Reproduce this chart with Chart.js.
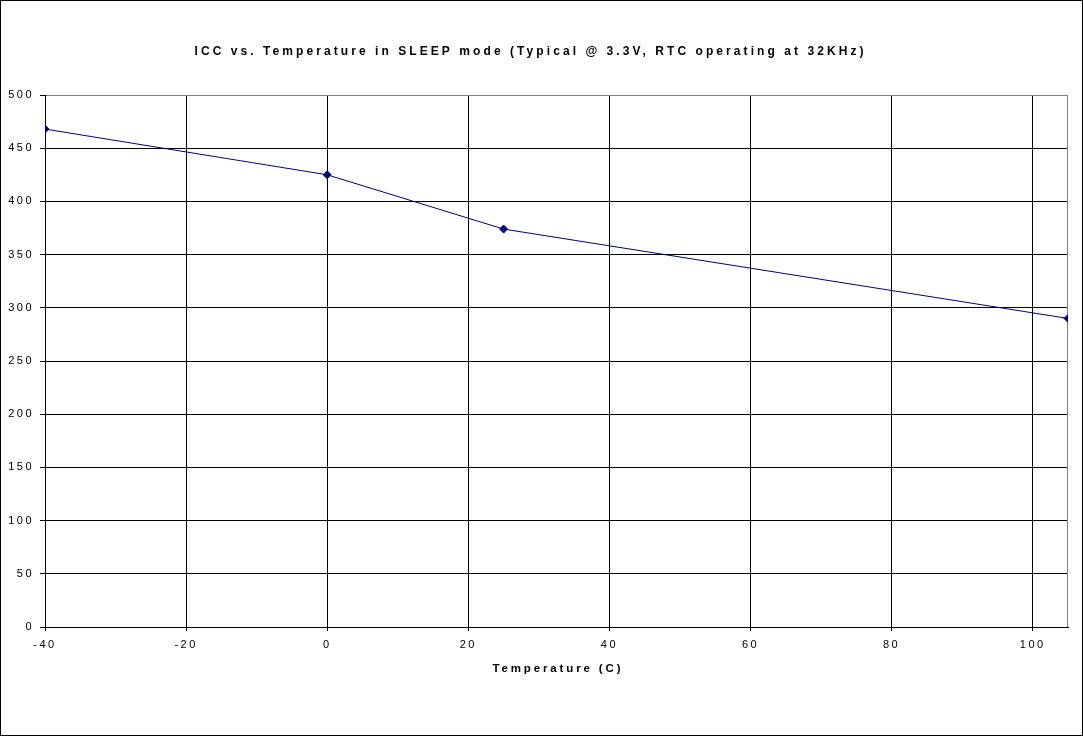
<!DOCTYPE html>
<html><head><meta charset="utf-8">
<script src="https://cdn.jsdelivr.net/npm/chart.js@4.4.0/dist/chart.umd.min.js"></script>
<style>html,body{margin:0;padding:0;background:#fff}#wrap{width:1083px;height:736px;position:relative}canvas{display:block}</style>
</head><body><div id="wrap"><canvas id="c" width="1083" height="736"></canvas></div>
<script>
const chartTitle = 'ICC vs. Temperature in SLEEP mode (Typical @ 3.3V, RTC operating at 32KHz)';
const xAxisTitle = 'Temperature (C)';
const temperatures = [-40, 0, 25, 105];
const iccValues = [468, 425, 374, 290];
const xTicks = [-40, -20, 0, 20, 40, 60, 80, 100];
const yTicks = [0, 50, 100, 150, 200, 250, 300, 350, 400, 450, 500];

const FONT = '"Liberation Sans", Arial, sans-serif';
const TICK_SPACING = '2.5px';

function spacedText(ctx, text, cx, y, font, targetWidth) {
  ctx.save();
  ctx.font = font;
  ctx.letterSpacing = '0px';
  const w = ctx.measureText(text).width;
  const ls = (targetWidth - w) / (text.length - 1);
  ctx.letterSpacing = ls + 'px';
  ctx.textAlign = 'left';
  ctx.textBaseline = 'alphabetic';
  ctx.fillStyle = '#000';
  ctx.fillText(text, cx - targetWidth / 2, y);
  ctx.restore();
}

const decor = {
  id: 'decor',
  beforeDraw(chart) {
    const ctx = chart.ctx;
    ctx.save();
    ctx.fillStyle = '#fff';
    ctx.fillRect(0, 0, chart.width, chart.height);
    ctx.restore();
    ctx.letterSpacing = TICK_SPACING;
  },
  beforeDatasetsDraw(chart) {
    const ctx = chart.ctx, a = chart.chartArea;
    ctx.save();
    ctx.strokeStyle = '#808080';
    ctx.lineWidth = 1;
    ctx.beginPath();
    const r = Math.round(a.right) - 0.5;
    ctx.moveTo(r, a.top);
    ctx.lineTo(r, a.bottom);
    ctx.stroke();
    ctx.restore();
  },
  afterDraw(chart) {
    const ctx = chart.ctx, a = chart.chartArea;
    spacedText(ctx, chartTitle, 529, 55, 'bold 12px ' + FONT, 669);
    spacedText(ctx, xAxisTitle, (a.left + a.right) / 2, 672, 'bold 11.5px ' + FONT, 128);
    ctx.save();
    ctx.strokeStyle = '#000';
    ctx.lineWidth = 1;
    ctx.strokeRect(0.5, 0.5, chart.width - 1, chart.height - 1);
    ctx.restore();
  }
};

new Chart(document.getElementById('c'), {
  type: 'line',
  data: {
    datasets: [{
      data: temperatures.map((t, i) => ({x: t, y: iccValues[i]})),
      borderColor: '#000080',
      backgroundColor: '#000080',
      borderWidth: 1,
      pointStyle: 'rectRot',
      pointRadius: 4,
      pointHoverRadius: 4,
      tension: 0,
      fill: false
    }]
  },
  options: {
    responsive: false,
    animation: false,
    devicePixelRatio: 1,
    layout: {padding: {left: 0, right: 15, top: 95, bottom: 0}},
    plugins: {legend: {display: false}, title: {display: false}, tooltip: {enabled: false}},
    scales: {
      x: {
        type: 'linear', min: -40, max: 105,
        afterBuildTicks: s => { s.ticks = xTicks.map(v => ({value: v})); },
        afterFit: s => { s.height = 109; },
        grid: {color: '#000', lineWidth: 1, tickLength: 4, tickColor: '#000', drawTicks: true},
        border: {color: '#000', width: 1},
        ticks: {font: {family: FONT, size: 11}, color: '#000', padding: 7, maxRotation: 0, autoSkip: false}
      },
      y: {
        type: 'linear', min: 0, max: 500,
        afterBuildTicks: s => { s.ticks = yTicks.map(v => ({value: v})); },
        afterFit: s => { s.width = 45; },
        grid: {color: c => (c.tick && c.tick.value === 500) ? '#808080' : '#000', lineWidth: 1, tickLength: 5, tickColor: '#000', drawTicks: true},
        border: {color: '#000', width: 1},
        ticks: {font: {family: FONT, size: 11}, color: '#000', padding: 6, autoSkip: false}
      }
    }
  },
  plugins: [decor]
});
</script></body></html>
